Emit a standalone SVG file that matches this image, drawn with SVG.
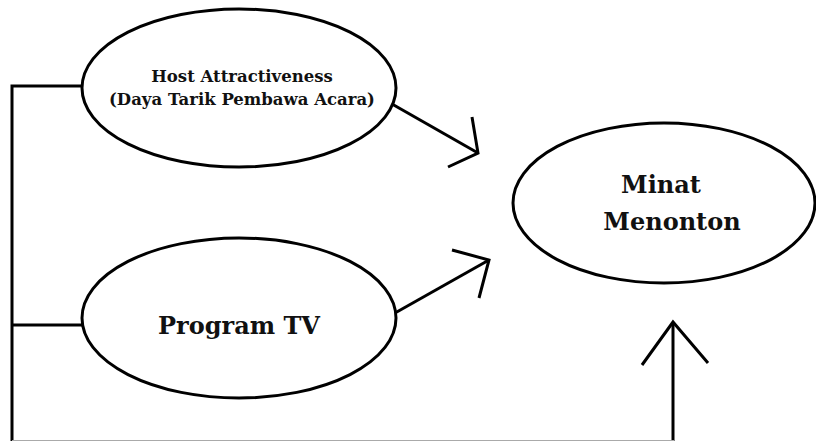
<svg xmlns="http://www.w3.org/2000/svg" width="816" height="441" viewBox="0 0 816 441">
<style>
.node ellipse{fill:#fff;stroke:#000;stroke-width:3}
.lbl{font-family:"DejaVu Serif","Liberation Serif",serif;font-weight:bold;fill:#111;text-anchor:middle}
.con{fill:none;stroke:#000;stroke-width:3;stroke-linejoin:miter;stroke-linecap:butt}
</style>
<rect width="816" height="441" fill="#fff"/>
<g id="connectors">
<polyline class="con" points="83,86 12,86 12,441"/>
<line class="con" x1="673" y1="441" x2="673" y2="322"/>
<line x1="12" y1="440.5" x2="674" y2="440.5" stroke="#aaa" stroke-width="1"/>
<line class="con" x1="12" y1="325" x2="83" y2="325"/>
<polyline class="con" points="642,365 673,322 708,363"/>
<line class="con" x1="392" y1="104" x2="478" y2="153"/>
<polyline class="con" points="472,117 478,153 448,167"/>
<line class="con" x1="395" y1="313" x2="489" y2="260"/>
<polyline class="con" points="452,250 489,260 479,298"/>
</g>
<g id="host" class="node">
<ellipse cx="239" cy="88" rx="157" ry="79"/>
<text class="lbl" x="242" y="82" font-size="16.5">Host Attractiveness</text>
<text class="lbl" x="242" y="105" font-size="16.5">(Daya Tarik Pembawa Acara)</text>
</g>
<g id="program" class="node">
<ellipse cx="239" cy="318" rx="157" ry="80"/>
<text class="lbl" x="239" y="334" font-size="24">Program TV</text>
</g>
<g id="minat" class="node">
<ellipse cx="664" cy="203" rx="151" ry="80"/>
<text class="lbl" x="661" y="193" font-size="24">Minat</text>
<text class="lbl" x="672" y="230" font-size="24">Menonton</text>
</g>
</svg>
